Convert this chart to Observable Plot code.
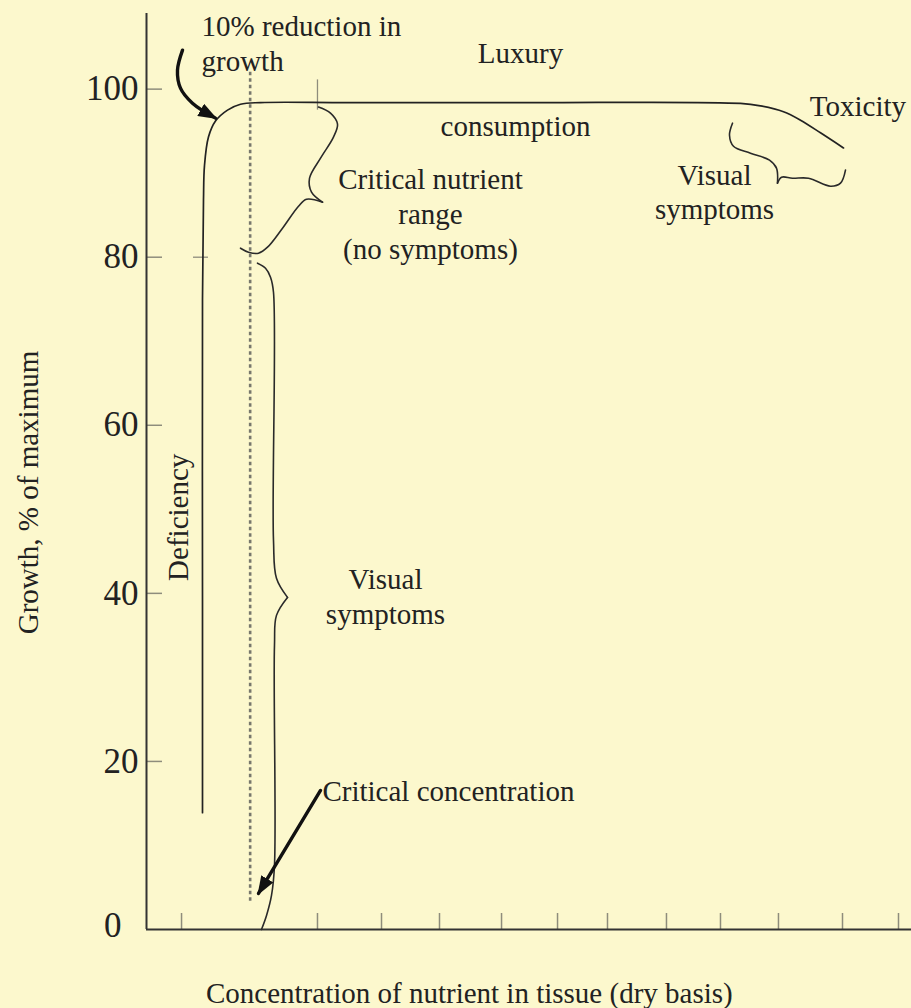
<!DOCTYPE html>
<html>
<head>
<meta charset="utf-8">
<script src="https://cdn.jsdelivr.net/npm/d3@7"></script>
<script src="https://cdn.jsdelivr.net/npm/@observablehq/plot@0.6"></script>
<style>
html, body { margin: 0; padding: 0; background: #FCF8CD; }
#chart svg { display: block; }
</style>
</head>
<body>
<div id="chart"></div>
<script>
// ---------- data (x: relative nutrient concentration 0–100, y: growth % of maximum) ----------
const yTickValues = [20, 40, 60, 80, 100];
const yZeroTick = [0];
const xTickValues = [4.58, 22.35, 30.72, 38.30, 46.41, 53.73, 60.26, 67.97, 75.03, 82.61, 90.98, 98.30];

// growth response curve
const curveX = [7.32, 7.32, 7.32, 7.45, 7.58, 8.10, 9.02, 10.59, 12.29, 14.90, 26.27, 50.0, 77.65, 80.26, 83.27, 85.49, 88.10, 91.11];
const curveY = [13.9, 39.2, 74.9, 86.8, 90.9, 94.3, 96.2, 97.5, 98.2, 98.4, 98.4, 98.4, 98.3, 98.0, 97.3, 96.3, 94.8, 93.0];

// braces (each segment drawn separately so the cusps stay sharp)
const braceSeg = [
  "rangeUp","rangeUp","rangeUp","rangeUp","rangeUp","rangeUp","rangeUp","rangeUp",
  "rangeDown","rangeDown","rangeDown","rangeDown","rangeDown","rangeDown","rangeDown","rangeDown",
  "visUp","visUp","visUp","visUp","visUp","visUp","visUp",
  "visDown","visDown","visDown","visDown","visDown","visDown","visDown",
  "toxUp","toxUp","toxUp","toxUp","toxUp","toxUp","toxUp",
  "toxDown","toxDown","toxDown","toxDown","toxDown","toxDown","toxDown"
];
const braceX = [
  22.48, 24.05, 24.97, 24.44, 22.75, 21.31, 21.57, 23.01,
  23.01, 20.92, 19.87, 17.78, 15.82, 14.64, 13.33, 12.29,
  14.51, 15.56, 16.21, 16.60, 16.60, 16.99, 18.43,
  18.43, 16.99, 16.73, 16.73, 16.34, 15.69, 15.03,
  76.60, 76.21, 76.73, 78.95, 81.44, 82.35, 82.48,
  82.48, 83.01, 84.44, 86.54, 89.41, 90.72, 91.37
];
const braceY = [
  97.86, 97.14, 95.83, 94.29, 91.79, 89.40, 87.74, 86.55,
  86.55, 86.90, 86.07, 83.45, 81.19, 80.48, 80.60, 81.07,
  79.29, 78.69, 77.62, 75.83, 46.31, 41.79, 39.52,
  39.52, 37.38, 33.81, 7.62, 4.05, 1.67, 0.0,
  95.95, 94.52, 93.21, 92.38, 91.55, 90.60, 88.81,
  88.81, 89.52, 89.40, 89.40, 88.45, 88.81, 90.36
];

// annotation arrows
const arrowId = ["reduction","reduction","reduction","reduction","reduction","critical","critical"];
const arrowX = [4.71, 4.05, 4.44, 6.01, 9.02, 22.75, 14.64];
const arrowY = [104.64, 102.26, 100.12, 98.33, 96.55, 16.55, 4.29];

// critical concentration (dotted) line
const criticalX = [13.55];
const criticalY1 = [102.0];
const criticalY2 = [3.2];

// faint leftover tick marks on the drawing
const plateauTickX = [22.35];
const plateauTickY1 = [97.5];
const plateauTickY2 = [101.1];
const stubY = [80];
const stubX1 = [6.14];
const stubX2 = [8.10];

// labels
const midLabels = ["Luxury", "consumption", "Toxicity", "Critical nutrient\nrange\n(no symptoms)", "Visual\nsymptoms", "Visual\nsymptoms"];
const midLabelX = [48.89, 48.24, 93.0, 37.12, 31.24, 74.25];
const midLabelY = [104.4, 95.7, 98.1, 85.3, 39.8, 87.9];
const startLabels = ["10% reduction in\ngrowth", "Critical concentration"];
const startLabelX = [7.19, 23.0];
const startLabelY = [105.6, 16.6];
const deficiencyLabel = ["Deficiency"];
const deficiencyX = [4.18];
const deficiencyY = [49.05];
const yTitle = ["Growth, % of maximum"];
const yTitleY = [52.0];
const xTitle = ["Concentration of nutrient in tissue (dry basis)"];
const xTitleX = [42.2];

// ---------- build ----------
const bg = "#FCF8CD";
const ink = "#222";
const tickGray = "#8e8d7c";

const curve = curveX.map((x, i) => ({x, y: curveY[i]}));
const braces = braceX.map((x, i) => ({x, y: braceY[i], seg: braceSeg[i]}));
const arrows = arrowX.map((x, i) => ({x, y: arrowY[i], id: arrowId[i]}));
const mids = midLabels.map((t, i) => ({t, x: midLabelX[i], y: midLabelY[i]}));
const starts = startLabels.map((t, i) => ({t, x: startLabelX[i], y: startLabelY[i]}));

function filledHead(color) {
  return d3.create("svg:marker")
    .attr("viewBox", "0 -7 19 14")
    .attr("markerUnits", "userSpaceOnUse")
    .attr("markerWidth", 19)
    .attr("markerHeight", 14)
    .attr("refX", 17)
    .attr("refY", 0)
    .attr("orient", "auto")
    .call(m => m.append("path").attr("d", "M0,-7L19,0L0,7Z").attr("fill", color).attr("stroke", "none"))
    .node();
}

const chart = Plot.plot({
  width: 911,
  height: 1008,
  marginLeft: 146,
  marginRight: 0,
  marginTop: 13,
  marginBottom: 79,
  style: {background: bg, fontFamily: "'Liberation Serif', 'Times New Roman', serif", color: ink},
  x: {domain: [0, 100], axis: null},
  y: {domain: [0, 109], axis: null},
  marks: [
    // axis ticks (inward)
    Plot.axisY({ticks: yTickValues, tickSize: -16, stroke: tickGray, strokeWidth: 1.5, fill: "none", label: null}),
    Plot.axisX({ticks: xTickValues, tickSize: -16, stroke: tickGray, strokeWidth: 1.5, fill: "none", label: null}),
    // tick labels
    Plot.axisY({ticks: yTickValues, tickSize: 0, tickPadding: 8, fontSize: 35, fill: ink, stroke: "none", label: null}),
    Plot.axisY({ticks: yZeroTick, tickSize: 0, tickPadding: 25, fontSize: 35, fill: ink, stroke: "none", label: null, dy: -4}),
    // faint leftovers
    Plot.ruleX(plateauTickX, {y1: plateauTickY1, y2: plateauTickY2, stroke: tickGray, strokeWidth: 1.3}),
    Plot.ruleY(stubY, {x1: stubX1, x2: stubX2, stroke: tickGray, strokeWidth: 1.3}),
    // axis lines
    Plot.ruleX([0], {stroke: "#333", strokeWidth: 2}),
    Plot.ruleY([0], {stroke: "#333", strokeWidth: 2.2}),
    // critical concentration dotted line
    Plot.ruleX(criticalX, {y1: criticalY1, y2: criticalY2, stroke: "#77776c", strokeWidth: 2.6, strokeDasharray: "3.5,3"}),
    // growth curve
    Plot.line(curve, {x: "x", y: "y", curve: "catmull-rom", stroke: ink, strokeWidth: 1.7}),
    // braces
    Plot.line(braces, {x: "x", y: "y", z: "seg", curve: "catmull-rom", stroke: "#2a2a2a", strokeWidth: 1.6}),
    // arrows
    Plot.line(arrows, {x: "x", y: "y", z: "id", curve: "catmull-rom", stroke: "#111", strokeWidth: 3.4, markerEnd: filledHead}),
    // labels
    Plot.text(mids, {x: "x", y: "y", text: "t", fontSize: 29, lineHeight: 1.2, fill: ink, textAnchor: "middle"}),
    Plot.text(starts, {x: "x", y: "y", text: "t", fontSize: 29, lineHeight: 1.2, fill: ink, textAnchor: "start"}),
    Plot.text(deficiencyLabel, {x: deficiencyX, y: deficiencyY, text: d => d, rotate: -90, fontSize: 29, fill: ink}),
    Plot.text(yTitle, {y: yTitleY, text: d => d, frameAnchor: "left", textAnchor: "middle", lineAnchor: "middle", dx: -118, rotate: -90, fontSize: 29, fill: ink}),
    Plot.text(xTitle, {x: xTitleX, text: d => d, frameAnchor: "bottom", textAnchor: "middle", lineAnchor: "middle", dy: 64, fontSize: 29, fill: ink})
  ]
});

document.getElementById("chart").append(chart);
</script>
</body>
</html>
